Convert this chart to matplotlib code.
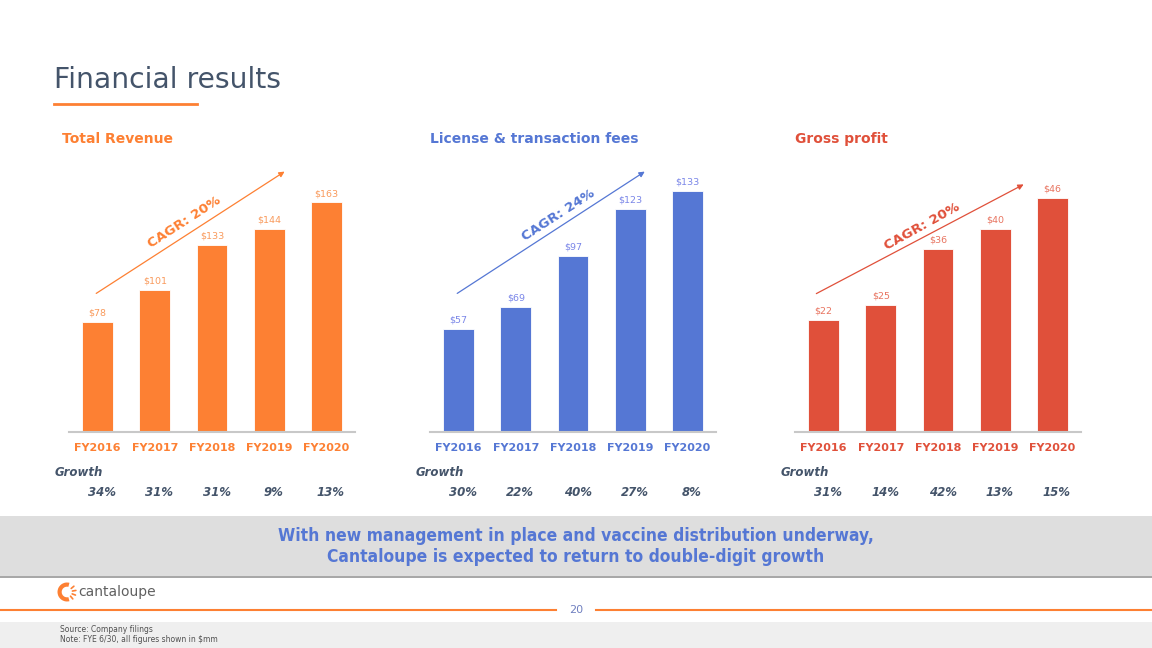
import numpy as np
import matplotlib.pyplot as plt
from matplotlib.patches import Rectangle, Wedge
from matplotlib.transforms import blended_transform_factory

# Dados do slide
anos = ["FY2016", "FY2017", "FY2018", "FY2019", "FY2020"]
receitaTotal = [78, 101, 133, 144, 163]
taxasLicenca = [57, 69, 97, 123, 133]
lucroBruto = [22, 25, 36, 40, 46]
crescReceita = [34, 31, 31, 9, 13]
crescLicenca = [30, 22, 40, 27, 8]
crescLucro = [31, 14, 42, 13, 15]
titulos = ["Total Revenue", "License & transaction fees", "Gross profit"]
cagrs = [20, 24, 20]

LARG, ALT = 1152, 648
AZUL_ESCURO = "#44546A"
LARANJA = "#FD8033"
cores = [LARANJA, "#5577D4", "#E0503A"]
coresRotulo = ["#F99A5C", "#7A86E8", "#E87460"]


def fx(px):
    return px / LARG


def fy(py):
    return 1 - py / ALT


fig = plt.figure(figsize=(LARG / 100, ALT / 100), dpi=100)
fig.patch.set_facecolor("white")

# Título
fig.text(fx(54), fy(80), "Financial results", fontsize=20.3, color=AZUL_ESCURO,
         va="center", ha="left")
fig.add_artist(plt.Line2D([fx(54), fx(197)], [fy(104), fy(104)], color=LARANJA, lw=2))

# Painéis
esquerdas = [69, 430, 795]
posTitulos = [62, 430, 795]
limitesY = [193, 150, 53.5]
series = [receitaTotal, taxasLicenca, lucroBruto]
crescimentos = [crescReceita, crescLicenca, crescLucro]
setas = [((0.087, 0.504), (0.762, 0.963)),
         ((0.087, 0.504), (0.759, 0.963)),
         ((0.066, 0.504), (0.808, 0.915))]
posCagr = [(0.402, 0.772, 33), (0.448, 0.798, 33), (0.444, 0.754, 29)]

for i in range(3):
    ax = fig.add_axes([fx(esquerdas[i]), fy(432), 286 / LARG, 272 / ALT])
    x = range(len(anos))
    barras = ax.bar(x, series[i], width=0.54, color=cores[i], edgecolor="white", linewidth=0.6)
    for b, v in zip(barras, series[i]):
        ax.annotate(f"${v}", (b.get_x() + b.get_width() / 2, v), xytext=(0, 3),
                    textcoords="offset points", ha="center", va="bottom",
                    fontsize=6.8, color=coresRotulo[i])
    ax.set_xlim(-0.5, 4.5)
    ax.set_ylim(0, limitesY[i])
    ax.set_xticks(list(x))
    ax.set_xticklabels(anos, fontsize=8, fontweight="bold", color=cores[i])
    ax.tick_params(axis="x", length=0, pad=8)
    ax.set_yticks([])
    for lado in ["top", "right", "left"]:
        ax.spines[lado].set_visible(False)
    ax.spines["bottom"].set_color("#C8C8C8")
    ax.spines["bottom"].set_linewidth(1.5)
    ax.patch.set_alpha(0)

    # Seta de CAGR
    ini, fim = setas[i]
    ax.annotate("", xy=fim, xytext=ini, xycoords="axes fraction",
                arrowprops=dict(arrowstyle="-|>", color=cores[i], lw=0.9, mutation_scale=8))
    cx, cy, rot = posCagr[i]
    ax.text(cx, cy, f"CAGR: {cagrs[i]}%", transform=ax.transAxes, rotation=rot,
            rotation_mode="anchor", ha="center", va="center", fontsize=9.7,
            fontweight="bold", color=cores[i])

    # Título do painel
    fig.text(fx(posTitulos[i]), fy(139), titulos[i], fontsize=10,
             fontweight="bold", color=cores[i], va="center", ha="left")

    # Crescimento
    fig.text(fx(esquerdas[i] - 14), fy(473), "Growth", fontsize=8.5, fontweight="bold",
             style="italic", color=AZUL_ESCURO, va="center")
    trans = blended_transform_factory(ax.transData, fig.transFigure)
    for j, g in enumerate(crescimentos[i]):
        ax.text(j + 0.08, fy(492), f"{g}%", transform=trans, ha="center", va="center",
                fontsize=8.5, fontweight="bold", style="italic", color=AZUL_ESCURO)

# Faixa cinza com mensagem
fig.add_artist(Rectangle((0, fy(578)), 1, fy(576) - fy(578), transform=fig.transFigure,
                         color="#A8A8A8", lw=0))
fig.add_artist(Rectangle((0, fy(576)), 1, fy(516) - fy(576), transform=fig.transFigure,
                         color="#DEDEDE", lw=0))
fig.text(0.5, fy(536), "With new management in place and vaccine distribution underway,",
         ha="center", va="center", fontsize=12.5, fontweight="bold", color="#5577D4",
         fontstretch="condensed")
fig.text(0.5, fy(557), "Cantaloupe is expected to return to double-digit growth",
         ha="center", va="center", fontsize=12.5, fontweight="bold", color="#5577D4",
         fontstretch="condensed")

# Rodapé: logo
axLogo = fig.add_axes([fx(57), fy(602), 20 / LARG, 20 / ALT])
axLogo.set_xlim(-1, 1)
axLogo.set_ylim(-1, 1)
axLogo.set_aspect("equal")
axLogo.axis("off")
axLogo.add_patch(Wedge((0, 0), 0.95, 75, 285, width=0.42, color=LARANJA, lw=0))
for ang in [40, 10, -20, -50]:
    a = np.deg2rad(ang)
    axLogo.plot([0.55 * np.cos(a), 0.9 * np.cos(a)], [0.55 * np.sin(a), 0.9 * np.sin(a)],
                color=LARANJA, lw=1.2, solid_capstyle="round")
fig.text(fx(78), fy(592), "cantaloupe", fontsize=10, color="#606060", va="center")

fig.add_artist(plt.Line2D([0, fx(556)], [fy(610), fy(610)], color=LARANJA, lw=1.5))
fig.add_artist(plt.Line2D([fx(596), 1], [fy(610), fy(610)], color=LARANJA, lw=1.5))
fig.text(fx(576), fy(610), "20", fontsize=8, color="#7080C0", ha="center", va="center")
fig.add_artist(Rectangle((0, 0), 1, fy(622), transform=fig.transFigure,
                         color="#EFEFEF", lw=0))
fig.text(fx(60), fy(630), "Source: Company filings", fontsize=5.5, color="#505050", va="center")
fig.text(fx(60), fy(640), "Note: FYE 6/30, all figures shown in $mm", fontsize=5.5,
         color="#505050", va="center")

fig.savefig("out.png", dpi=100)
